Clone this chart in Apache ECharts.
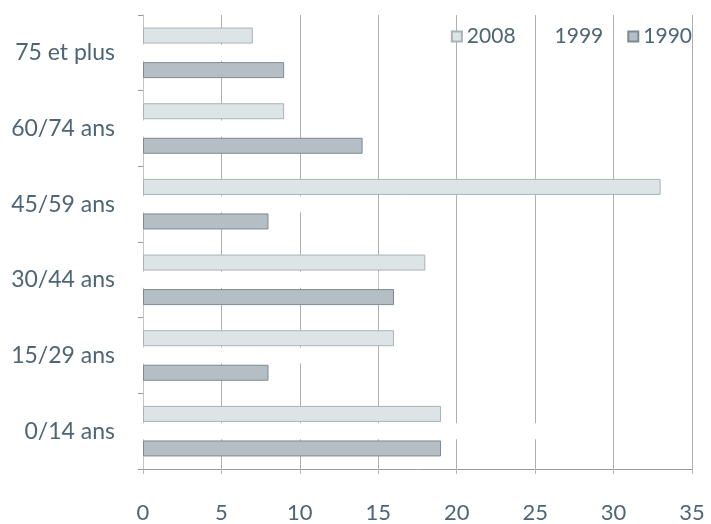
<!DOCTYPE html>
<html>
<head>
<meta charset="utf-8">
<script src="https://cdn.jsdelivr.net/npm/echarts@6/dist/echarts.min.js"></script>
<style>html,body{margin:0;padding:0;background:#fff}#c{width:711px;height:524px}</style>
</head>
<body>
<div id="c"></div>
<script>
const categories = ['0/14 ans', '15/29 ans', '30/44 ans', '45/59 ans', '60/74 ans', '75 et plus'];
const seriesNames = ['2008', '1999', '1990'];
const values2008 = [19, 16, 18, 33, 9, 7];
const values1999 = [26, 12, 15, 13, 8, 7];
const values1990 = [19, 8, 16, 8, 14, 9];
const xTicks = [0, 5, 10, 15, 20, 25, 30, 35];

const textColor = '#4e6575';
const chart = echarts.init(document.getElementById('c'));
chart.setOption({
  animation: false,
  backgroundColor: '#fff',
  textStyle: { fontFamily: 'Lato' },
  legend: {
    data: seriesNames,
    right: 14, top: 21,
    itemWidth: 10, itemHeight: 10, itemGap: 24,
    icon: 'rect',
    textStyle: { fontSize: 21, color: textColor, fontFamily: 'Lato' }
  },
  grid: { left: 143, right: 19, top: 15, bottom: 49, containLabel: false },
  xAxis: {
    type: 'value', min: xTicks[0], max: xTicks[xTicks.length - 1], interval: 5,
    axisLine: { show: true, lineStyle: { color: '#9a9a9a', width: 1 } },
    axisTick: { show: true, length: 5, lineStyle: { color: '#b5b5b5' } },
    axisLabel: { fontSize: 22, color: textColor, margin: 33, fontFamily: 'Lato' },
    splitLine: { show: true, lineStyle: { color: '#b0b0b0', width: 1 } }
  },
  yAxis: {
    type: 'category', data: categories,
    axisLine: { show: true, lineStyle: { color: '#c4c4c4' } },
    axisTick: { show: true, length: 5, lineStyle: { color: '#999' } },
    axisLabel: { fontSize: 23, color: textColor, margin: 28, fontFamily: 'Lato' }
  },
  series: [
    { name: '2008', type: 'bar', data: values2008, barWidth: 16, barGap: '8%',
      itemStyle: { color: '#dde4e6', borderColor: '#a9b2b6', borderWidth: 1 } },
    { name: '1999', type: 'bar', data: values1999, barWidth: 16, barGap: '8%',
      itemStyle: { color: '#ffffff', borderColor: '#ffffff', borderWidth: 0 } },
    { name: '1990', type: 'bar', data: values1990, barWidth: 16, barGap: '8%',
      itemStyle: { color: '#b4bec4', borderColor: '#7e8a91', borderWidth: 1 } }
  ]
});
</script>
</body>
</html>
